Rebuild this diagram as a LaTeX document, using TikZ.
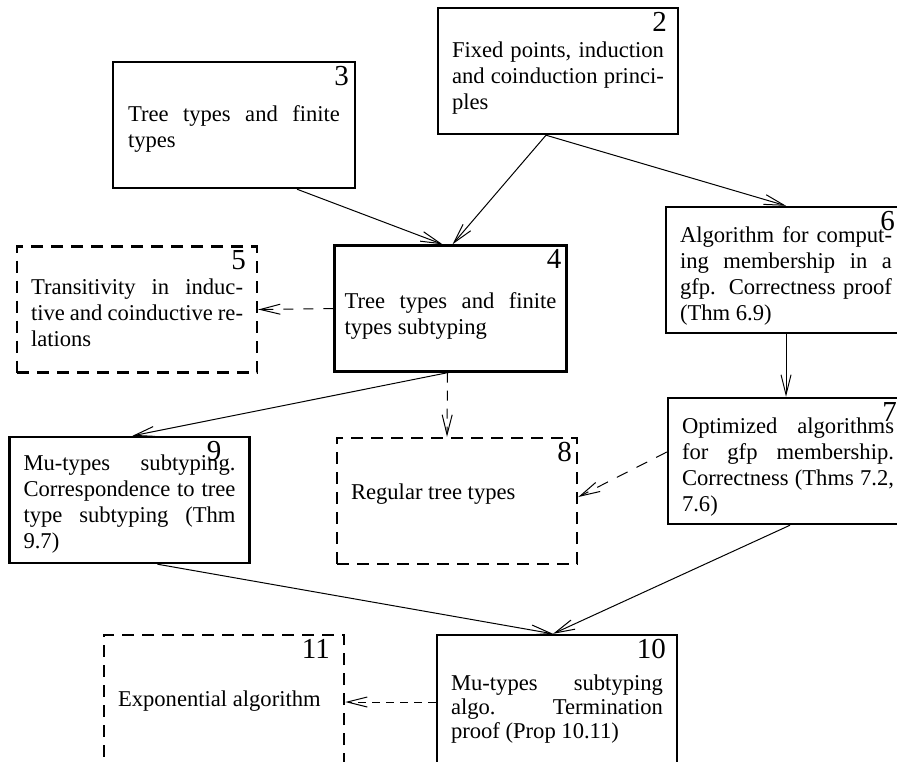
\documentclass[tikz,border=0pt]{standalone}
\usepackage{fontspec}
\setmainfont{Liberation Serif}
\usetikzlibrary{arrows.meta}

% box text: [box height]{gap above first line}{text}
\newcommand\bt[3][63pt]{\parbox[c][#1][t]{106pt}{\vskip #2\strut #3}}

\tikzset{
  box/.style={draw, line width=1.2pt, inner xsep=7pt, inner ysep=0pt,
    font=\fontsize{11.3}{13}\selectfont},
  dbox/.style={box, dash pattern=on 6pt off 4pt},
  num/.style={anchor=north east, inner sep=0pt, xshift=-#1, yshift=-2.5pt,
    font=\fontsize{14.5}{15}\selectfont},
  num/.default=6pt,
  arr/.style={-{Straight Barb[length=10pt,width=5pt]}, line width=0.5pt},
  darr/.style={arr, dash pattern=on 5pt off 4pt}
}

\begin{document}
\begin{tikzpicture}[x=0.5pt, y=-0.5pt]

    % Page frame
    \clip (0,0) rectangle (897,761);

    % Boxes
    \node[box, label={[num]north east:2}] (b2) at (558,71)
      {\bt{15.6pt}{Fixed points, induction\linebreak and coinduction princi-\linebreak ples}};
    \node[box, inner xsep=7.5pt, label={[num=3.5pt]north east:3}] (b3) at (234,125)
      {\bt{20.4pt}{Tree types and finite\linebreak types}};
    \node[box, inner xsep=5pt, label={[num=3pt]north east:4}] (b4) at (450.5,308.5)
      {\bt{22.4pt}{Tree types and finite\linebreak types subtyping}};
    \node[dbox, label={[num]north east:5}] (b5) at (137,309.5)
      {\bt{14.9pt}{Transitivity in induc-\linebreak tive and coinductive re-\linebreak lations}};
    \node[box, label={[num]north east:6}] (b6) at (786,270)
      {\bt{8.4pt}{Algorithm for comput-\linebreak ing membership in a\linebreak gfp. Correctness proof\linebreak (Thm 6.9)}};
    \node[box, label={[num]north east:7}] (b7) at (788,461)
      {\bt{8.4pt}{Optimized algorithms\linebreak for gfp membership.\linebreak Correctness (Thms 7.2,\linebreak 7.6)}};
    \node[dbox, label={[num=3pt]north east:8}] (b8) at (457,501)
      {\bt{21.4pt}{Regular tree types}};
    \node[box, label={[num=14.5pt]north east:9}] (b9) at (129.5,500)
      {\bt{7.4pt}{Mu-types subtyping.\linebreak Correspondence to tree\linebreak type subtyping (Thm\linebreak 9.7)}};
    \node[box, font=\fontsize{11.3}{11.8}\selectfont, label={[num]north east:10}] (b10) at (557,700)
      {\bt[65pt]{19.7pt}{Mu-types subtyping\linebreak algo. Termination\linebreak proof (Prop 10.11)}};
    \node[dbox, label={[num=7.5pt]north east:11}] (b11) at (224,700)
      {\bt[65pt]{26.4pt}{Exponential algorithm}};

    % Arrows
    \draw[arr] ([xshift=31.5pt]b3.south) -- ([xshift=-4pt]b4.north);
    \draw[arr] ([xshift=-6pt]b2.south) -- ([xshift=1pt]b4.north);
    \draw[arr] ([xshift=-6pt]b2.south) -- (b6.north);
    \draw[darr, dash pattern=on 5pt off 5pt] (b4.west) -- (b5.east);
    \draw[darr] ([xshift=-1.5pt]b4.south) -- ([xshift=-5pt]b8.north);
    \draw[arr] ([xshift=-1.5pt]b4.south) -- ([xshift=1.5pt]b9.north);
    \draw[arr] (b6.south) -- (b6.south |- b7.north);
    \draw[darr, dash pattern=on 6pt off 5pt] ([yshift=4.5pt]b7.west) -- ([yshift=2pt]b8.east);
    \draw[arr] ([xshift=14pt]b9.south) -- ([xshift=-2pt]b10.north);
    \draw[arr] ([xshift=1pt]b7.south) -- ([xshift=-2pt]b10.north);
    \draw[darr, dash pattern=on 4pt off 3pt] ([yshift=-1pt]b10.west) -- ([yshift=-1pt]b11.east);

\end{tikzpicture}
\end{document}
